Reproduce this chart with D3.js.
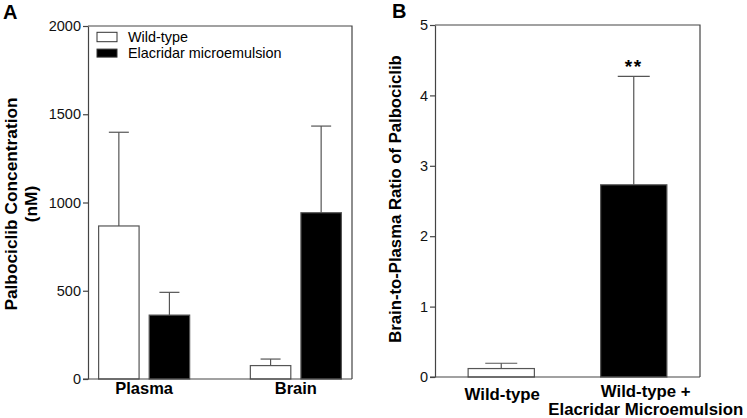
<!DOCTYPE html>
<html>
<head>
<meta charset="utf-8">
<script src="https://cdn.jsdelivr.net/npm/d3@7"></script>
<style>
  body { margin: 0; background: #fff; }
  svg { display: block; font-family: "Liberation Sans", Arial, sans-serif; }
</style>
</head>
<body>
<div id="chart"></div>
<script>
// Panel A data: palbociclib concentration (nM), mean and upper SD
const tissues = ["Plasma", "Brain"];
const groupsA = ["Wild-type", "Elacridar microemulsion"];
const wildTypeConc = [867, 76];
const wildTypeConcErr = [1398, 113];
const elacridarConc = [362, 942];
const elacridarConcErr = [491, 1433];
const ticksA = [0, 500, 1000, 1500, 2000];

// Panel B data: brain-to-plasma ratio
const groupsB = ["Wild-type", "Wild-type +|Elacridar Microemulsion"];
const ratioMean = [0.12, 2.73];
const ratioErr = [0.195, 4.27];
const ratioStars = ["", "**"];
const ticksB = [0, 1, 2, 3, 4, 5];

const W = 747, H = 418;
const axisColor = "#444";
const barStroke = "#555";
const font = "Liberation Sans, Arial, sans-serif";

const svg = d3.select("#chart").append("svg")
  .attr("width", W)
  .attr("height", H);

function styleAxis(ax) {
  ax.select(".domain").attr("stroke", axisColor).attr("stroke-width", 1.2);
  ax.selectAll(".tick line").attr("stroke", axisColor).attr("stroke-width", 1.2);
  ax.selectAll(".tick text").attr("font-size", 14.5).attr("fill", "#111").attr("font-family", font);
}

// ---------- Panel A ----------
const a = { left: 88, right: 352, top: 26, bottom: 379 };

const yA = d3.scaleLinear().domain([0, 2000]).range([a.bottom, a.top]);
const x0A = d3.scaleBand().domain(tissues).range([a.left, a.right]).paddingInner(0.4).paddingOuter(0.07);
const x1A = d3.scaleBand().domain(groupsA).range([0, x0A.bandwidth()]).paddingInner(0.2);

const gA = svg.append("g");

// box (top + right)
gA.append("path")
  .attr("d", `M${a.left},${a.top}H${a.right}V${a.bottom}`)
  .attr("fill", "none")
  .attr("stroke", axisColor)
  .attr("stroke-width", 1.2);

const rowsA = tissues.map((t, i) => [
  { tissue: t, group: groupsA[0], v: wildTypeConc[i], e: wildTypeConcErr[i], fill: "#fff" },
  { tissue: t, group: groupsA[1], v: elacridarConc[i], e: elacridarConcErr[i], fill: "#000" }
]).flat();

// error bars (drawn first, bar covers lower half)
const errA = gA.append("g").selectAll("g").data(rowsA).enter().append("g")
  .attr("transform", d => `translate(${x0A(d.tissue) + x1A(d.group) + x1A.bandwidth() / 2},0)`);
errA.append("line")
  .attr("y1", d => yA(d.v)).attr("y2", d => yA(d.e))
  .attr("stroke", barStroke).attr("stroke-width", 1.2);
errA.append("line")
  .attr("x1", -10).attr("x2", 10)
  .attr("y1", d => yA(d.e)).attr("y2", d => yA(d.e))
  .attr("stroke", barStroke).attr("stroke-width", 1.2);

gA.append("g").selectAll("rect").data(rowsA).enter().append("rect")
  .attr("x", d => x0A(d.tissue) + x1A(d.group))
  .attr("y", d => yA(d.v))
  .attr("width", x1A.bandwidth())
  .attr("height", d => yA(0) - yA(d.v))
  .attr("fill", d => d.fill)
  .attr("stroke", barStroke)
  .attr("stroke-width", 1.2);

// y axis
const axA = gA.append("g")
  .attr("transform", `translate(${a.left},0)`)
  .call(d3.axisLeft(yA).tickValues(ticksA).tickFormat(d3.format("d"))
    .tickSize(5).tickSizeOuter(0).tickPadding(2));
styleAxis(axA);

// x baseline
gA.append("line")
  .attr("x1", a.left - 5).attr("x2", a.right)
  .attr("y1", a.bottom).attr("y2", a.bottom)
  .attr("stroke", axisColor).attr("stroke-width", 1.2);

// category labels
gA.append("g").selectAll("text").data(tissues).enter().append("text")
  .attr("x", d => x0A(d) + x0A.bandwidth() / 2)
  .attr("y", 394)
  .attr("text-anchor", "middle")
  .attr("font-size", 16.5).attr("font-weight", "bold")
  .text(d => d);

// y title
const titleA = gA.append("text")
  .attr("transform", `translate(0,204) rotate(-90)`)
  .attr("text-anchor", "middle")
  .attr("font-size", 17.3).attr("font-weight", "bold");
titleA.append("tspan").attr("x", 0).attr("y", 17).text("Palbociclib Concentration");
titleA.append("tspan").attr("x", 0).attr("y", 37).text("(nM)");

// legend
const legA = gA.append("g").selectAll("g").data(groupsA).enter().append("g")
  .attr("transform", (d, i) => `translate(97,${32.3 + i * 16})`);
legA.append("rect")
  .attr("width", 20).attr("height", (d, i) => i === 0 ? 9.4 : 8)
  .attr("y", (d, i) => i === 0 ? 0 : 0.8)
  .attr("fill", (d, i) => i === 0 ? "#fff" : "#000")
  .attr("stroke", "#333").attr("stroke-width", 1);
legA.append("text")
  .attr("x", 31).attr("y", 9.4)
  .attr("font-size", 14.4)
  .text(d => d);

// panel letter
svg.append("text").attr("x", 3).attr("y", 19.3)
  .attr("font-size", 20).attr("font-weight", "bold").text("A");

// ---------- Panel B ----------
const b = { left: 435, right: 700, top: 25, bottom: 377 };
const labelShiftB = [1, 12];

const yB = d3.scaleLinear().domain([0, 5]).range([b.bottom, b.top]);
const xB = d3.scaleBand().domain(groupsB).range([b.left, b.right]).paddingInner(0.5).paddingOuter(0.25);

const gB = svg.append("g");

gB.append("path")
  .attr("d", `M${b.left},${b.top}H${b.right}V${b.bottom}`)
  .attr("fill", "none")
  .attr("stroke", axisColor)
  .attr("stroke-width", 1.2);

const rowsB = groupsB.map((g, i) => ({ group: g, v: ratioMean[i], e: ratioErr[i], star: ratioStars[i], fill: i === 0 ? "#fff" : "#000" }));

const errB = gB.append("g").selectAll("g").data(rowsB).enter().append("g")
  .attr("transform", d => `translate(${xB(d.group) + xB.bandwidth() / 2},0)`);
errB.append("line")
  .attr("y1", d => yB(d.v)).attr("y2", d => yB(d.e))
  .attr("stroke", barStroke).attr("stroke-width", 1.2);
errB.append("line")
  .attr("x1", -16).attr("x2", 16)
  .attr("y1", d => yB(d.e)).attr("y2", d => yB(d.e))
  .attr("stroke", barStroke).attr("stroke-width", 1.2);
errB.append("text")
  .attr("y", d => yB(d.e) - 3)
  .attr("text-anchor", "middle")
  .attr("font-size", 19).attr("font-weight", "bold")
  .attr("letter-spacing", 1.5)
  .text(d => d.star);

gB.append("g").selectAll("rect").data(rowsB).enter().append("rect")
  .attr("x", d => xB(d.group))
  .attr("y", d => yB(d.v))
  .attr("width", xB.bandwidth())
  .attr("height", d => yB(0) - yB(d.v))
  .attr("fill", d => d.fill)
  .attr("stroke", barStroke)
  .attr("stroke-width", 1.2);

const axB = gB.append("g")
  .attr("transform", `translate(${b.left},0)`)
  .call(d3.axisLeft(yB).tickValues(ticksB).tickFormat(d3.format("d"))
    .tickSize(5).tickSizeOuter(0).tickPadding(2));
styleAxis(axB);

gB.append("line")
  .attr("x1", b.left - 5).attr("x2", b.right)
  .attr("y1", b.bottom).attr("y2", b.bottom)
  .attr("stroke", axisColor).attr("stroke-width", 1.2);

// category labels (multi-line split on |)
const labB = gB.append("g").selectAll("text").data(groupsB).enter().append("text")
  .attr("text-anchor", "middle")
  .attr("font-size", 16.8).attr("font-weight", "bold");
labB.each(function (d, k) {
  const lines = d.split("|");
  const cx = xB(d) + xB.bandwidth() / 2 + labelShiftB[k];
  const y0 = lines.length === 1 ? 400 : 397;
  lines.forEach((ln, i) => {
    d3.select(this).append("tspan").attr("x", cx).attr("y", y0 + i * 18).text(ln);
  });
});

gB.append("text")
  .attr("transform", `translate(401,199) rotate(-90)`)
  .attr("text-anchor", "middle")
  .attr("font-size", 16.7).attr("font-weight", "bold")
  .text("Brain-to-Plasma Ratio of Palbociclib");

svg.append("text").attr("x", 392).attr("y", 18.3)
  .attr("font-size", 20).attr("font-weight", "bold").text("B");
</script>
</body>
</html>
